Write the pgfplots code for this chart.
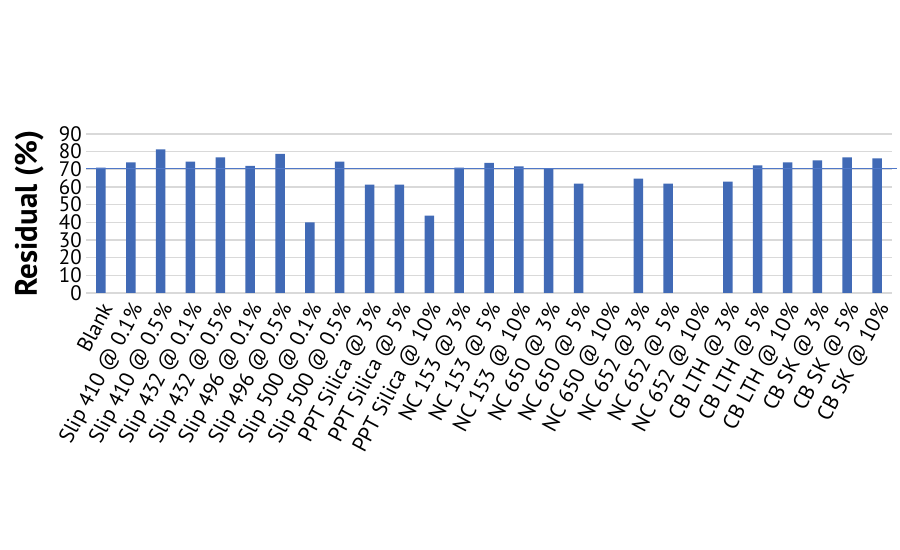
\documentclass[border=0pt]{standalone}
\usepackage{pgfplots}
\pgfplotsset{compat=1.18}
\usepackage{fontspec}
\setmainfont{PT Sans}
\definecolor{barblue}{RGB}{65,106,182}
\definecolor{lineblue}{RGB}{80,120,200}
\definecolor{gridgray}{RGB}{217,217,217}
\begin{document}
\begin{tikzpicture}
\path[use as bounding box] (0,0) rectangle (900bp,550bp);
\begin{axis}[
  at={(86bp,257bp)}, anchor=south west,
  scale only axis, width=806bp, height=159bp,
  xmin=-0.5, xmax=26.5, ymin=0, ymax=90,
  ytick={0,10,...,90},
  xtick={0,...,26},
  xticklabels={Blank,Slip 410 @ 0.1\%,Slip 410 @ 0.5\%,Slip 432 @ 0.1\%,Slip 432 @ 0.5\%,Slip 496 @ 0.1\%,Slip 496 @ 0.5\%,Slip 500 @ 0.1\%,Slip 500 @ 0.5\%,PPT Silica @ 3\%,PPT Silica @ 5\%,PPT Silica @ 10\%,NC 153 @ 3\%,NC 153 @ 5\%,NC 153 @ 10\%,NC 650 @ 3\%,NC 650 @ 5\%,NC 650 @ 10\%,NC 652 @ 3\%,NC 652 @ 5\%,NC 652 @ 10\%,CB LTH @ 3\%,CB LTH @ 5\%,CB LTH @ 10\%,CB SK @ 3\%,CB SK @ 5\%,CB SK @ 10\%},
  axis line style={draw=none},
  major tick length=0pt,
  ymajorgrids, grid style={gridgray, line width=1.2bp},
  /pgf/number format/assume math mode=true,
  yticklabel style={font=\fontsize{21}{24}\selectfont, inner xsep=4bp},
  xticklabel style={font=\fontsize{21.5}{24}\selectfont, xshift=-1.5bp, yshift=-6.5bp, rotate=62, anchor=north east, inner sep=1bp},
  ylabel={\textbf{Residual (\%)}},
  ylabel style={font=\fontsize{31}{34}\selectfont, at={(axis description cs:-0.048,0.5)}, anchor=south, rotate=0},
  clip=false,
]
\addplot[ybar, bar width=9.5bp, bar shift=0pt, fill=barblue, draw=none] coordinates {
(0,70.9) (1,74) (2,81.3) (3,74.3) (4,76.8) (5,71.9) (6,78.7) (7,40) (8,74.3)
(9,61.3) (10,61.3) (11,43.8) (12,70.9) (13,73.6) (14,71.7) (15,70.4) (16,61.9)
(18,64.7) (19,61.9) (21,63) (22,72.3) (23,74) (24,75.1) (25,76.8) (26,76.2)};
\addplot[lineblue, line width=1bp, forget plot] coordinates {(-0.5,70.5) (26.67,70.5)};
\end{axis}
\end{tikzpicture}
\end{document}
